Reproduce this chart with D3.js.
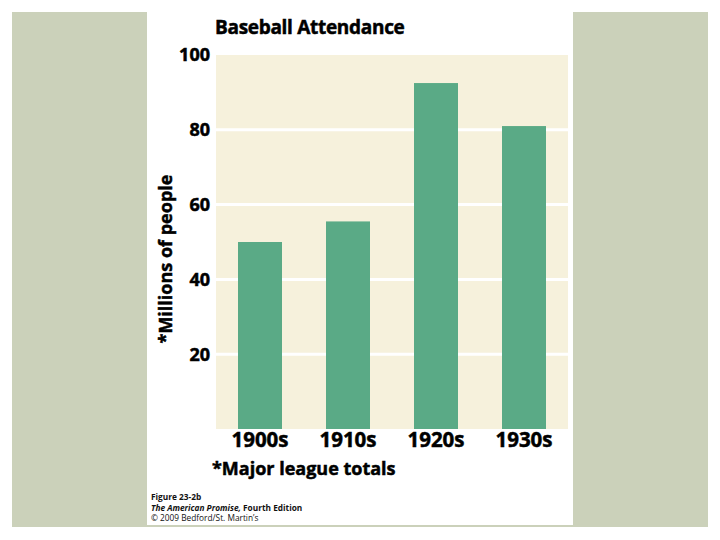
<!DOCTYPE html>
<html>
<head>
<meta charset="utf-8">
<script src="https://cdn.jsdelivr.net/npm/d3@7"></script>
<style>
  body { margin: 0; background: #fff; }
  text { font-family: "Open Sans", "Noto Sans", sans-serif; }
  .heavy { font-weight: bold; stroke: #000; stroke-width: 0.5px; }
</style>
</head>
<body>
<div id="chart"></div>
<script>
var decades = ["1900s", "1910s", "1920s", "1930s"];
var attendance = [50, 55.5, 92.5, 81];   // millions of people
var yTicks = [20, 40, 60, 80, 100];

var width = 720,
    height = 540;

var svg = d3.select("#chart").append("svg")
    .attr("width", width)
    .attr("height", height);

// grey slide backdrop and white figure panel
svg.append("rect").attr("x", 12).attr("y", 12).attr("width", 696).attr("height", 515)
    .style("fill", "#cbd1ba");
svg.append("rect").attr("x", 147).attr("y", 12).attr("width", 426).attr("height", 513)
    .style("fill", "#fff");

var plot = {left: 216, right: 568, top: 55, bottom: 429};

var x = d3.scaleBand()
    .domain(decades)
    .range([plot.left, plot.right])
    .paddingInner(0.5)
    .paddingOuter(0.25);

var y = d3.scaleLinear()
    .domain([0, 100])
    .range([plot.bottom, plot.top]);

svg.append("rect")
    .attr("x", plot.left).attr("y", plot.top)
    .attr("width", plot.right - plot.left).attr("height", plot.bottom - plot.top)
    .style("fill", "#f6f1dc");

// gridlines
svg.append("g").selectAll("line")
    .data(yTicks.filter(d => d < 100))
    .enter().append("line")
    .attr("x1", plot.left).attr("x2", plot.right)
    .attr("y1", d => y(d)).attr("y2", d => y(d))
    .style("stroke", "#fff")
    .style("stroke-width", 3);

// bars
svg.append("g").selectAll("rect")
    .data(attendance)
    .enter().append("rect")
    .attr("x", (d, i) => x(decades[i]))
    .attr("y", d => y(d))
    .attr("width", x.bandwidth())
    .attr("height", d => y(0) - y(d))
    .style("fill", "#5aaa86");

// y tick labels
svg.append("g").selectAll("text")
    .data(yTicks)
    .enter().append("text")
    .attr("class", "heavy")
    .attr("x", 210)
    .attr("y", d => y(d))
    .attr("dy", "0.35em")
    .attr("text-anchor", "end")
    .style("font-size", "18px")
    .text(d => d);

// x labels
svg.append("g").selectAll("text")
    .data(decades)
    .enter().append("text")
    .attr("class", "heavy")
    .attr("x", d => x(d) + x.bandwidth() / 2)
    .attr("y", 447)
    .attr("text-anchor", "middle")
    .style("font-size", "20.5px")
    .text(d => d);

svg.append("text")
    .attr("class", "heavy")
    .attr("x", 215).attr("y", 34)
    .style("font-size", "19px")
    .style("letter-spacing", "-0.3px")
    .text("Baseball Attendance");

svg.append("text")
    .attr("class", "heavy")
    .attr("transform", "translate(172,259) rotate(-90)")
    .attr("text-anchor", "middle")
    .style("font-size", "18px")
    .text("*Millions of people");

svg.append("text")
    .attr("class", "heavy")
    .attr("x", 212).attr("y", 475)
    .style("font-size", "18px")
    .text("*Major league totals");

// credit lines
var credit = svg.append("g").style("font-size", "8.3px").style("fill", "#111");
credit.append("text").attr("x", 151).attr("y", 500).style("font-weight", "bold").text("Figure 23-2b");
var t2 = credit.append("text").attr("x", 151).attr("y", 511).style("font-weight", "bold");
t2.append("tspan").style("font-style", "italic").text("The American Promise,");
t2.append("tspan").text(" Fourth Edition");
credit.append("text").attr("x", 151).attr("y", 521).text("\u00a9 2009 Bedford/St. Martin\u2019s");
</script>
</body>
</html>
